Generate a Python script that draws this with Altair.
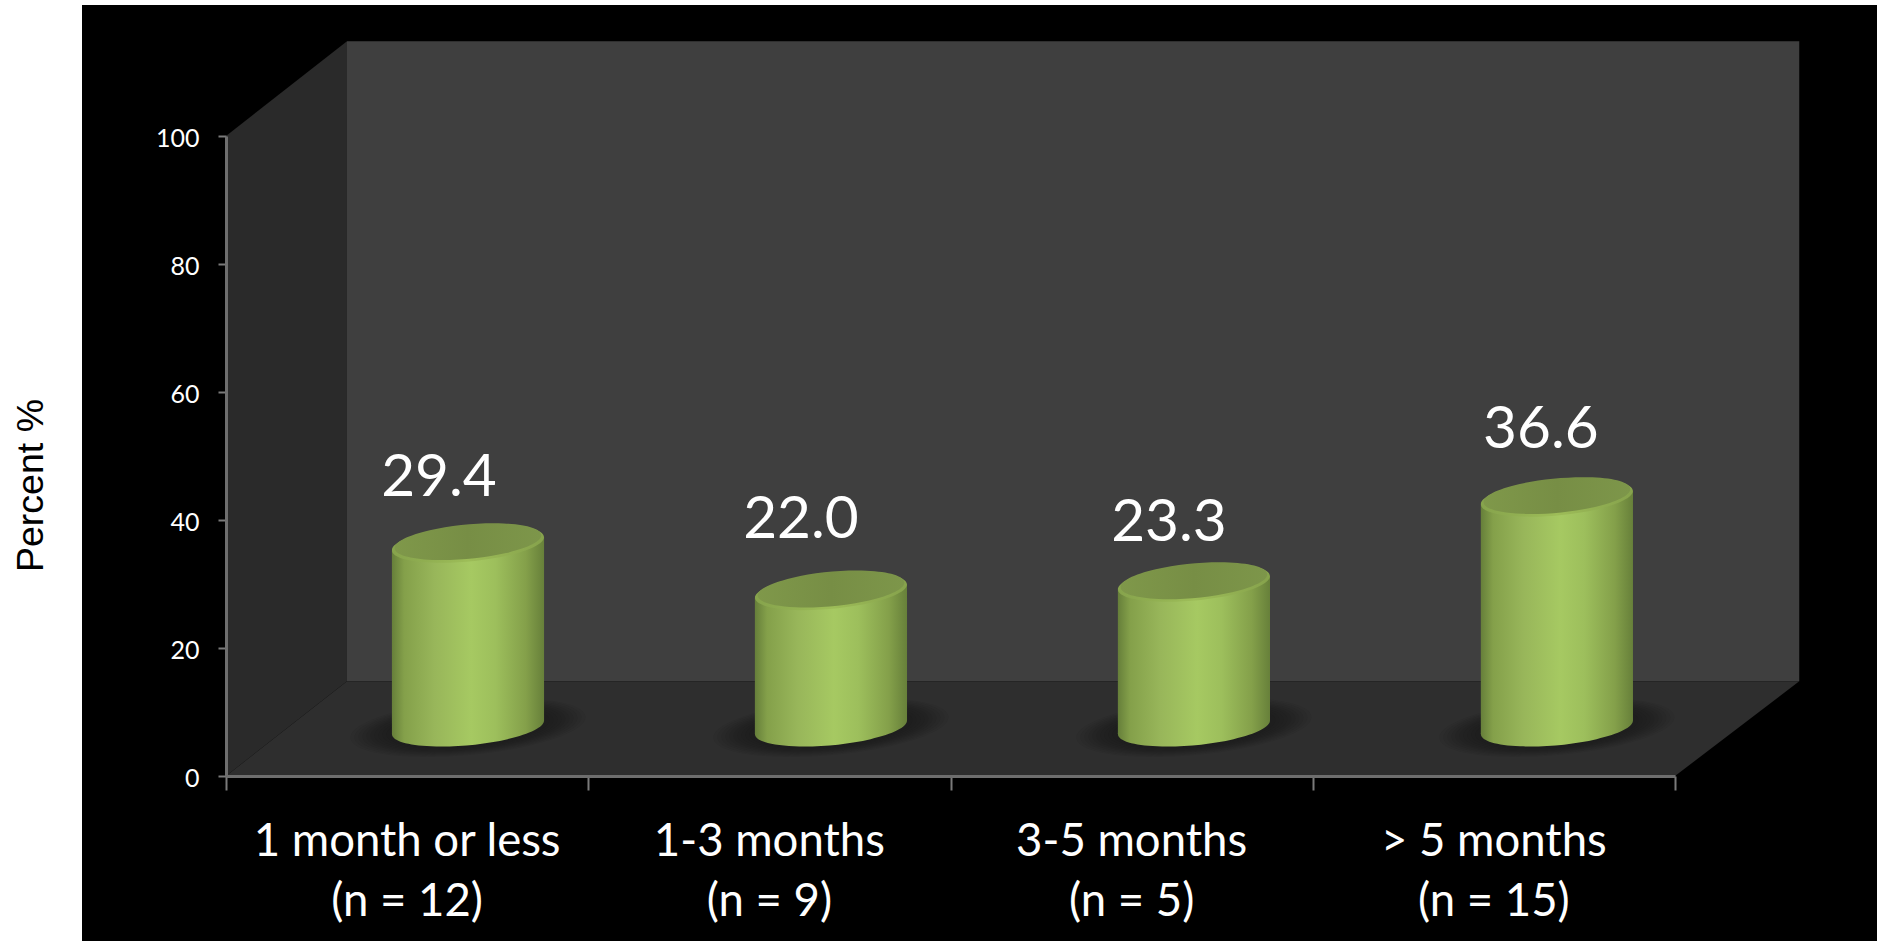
import altair as alt
import pandas as pd

# Chart values
categories = ["1 month or less", "1-3 months", "3-5 months", "> 5 months"]
sample_sizes = ["(n = 12)", "(n = 9)", "(n = 5)", "(n = 15)"]
percent = [29.4, 22.0, 23.3, 36.6]
y_ticks = [0, 20, 40, 60, 80, 100]
x_ticks = [0, 1, 2, 3, 4]

# Projection of the pseudo-3D box, in axis units
DEPTH_X = 0.334
DEPTH_X_RIGHT = 0.343
DEPTH_Y = 14.8
CYL_CENTER = 0.668
CYL_PITCH = 1.002
CYL_HALF = 0.21
FOOT_LEFT, FOOT_RIGHT = 6.55, 8.65
HEAD_LEFT, HEAD_RIGHT = 5.85, 7.95
FOOT_MID = (FOOT_LEFT + FOOT_RIGHT) / 2
HEAD_MID = (HEAD_LEFT + HEAD_RIGHT) / 2

x_scale = alt.Scale(domain=[0, 4], range=[226, 1675], zero=False, nice=False)
y_scale = alt.Scale(domain=[0, 100], range=[776, 136], zero=False, nice=False)

# One shared axis definition per channel; zindex keeps them above the panel
x_axis = alt.Axis(
    orient="bottom", offset=-165, values=x_ticks, labels=False, title=None,
    grid=False, tickSize=14, tickWidth=2, tickColor="#7a7a7a",
    domainColor="#6e6e6e", domainWidth=3, zindex=1,
)
y_axis = alt.Axis(
    orient="left", offset=-226, values=y_ticks, title="Percent %", grid=False,
    tickSize=8, tickWidth=2, tickColor="#7a7a7a", domainColor="#6e6e6e",
    domainWidth=3, labelColor="#ffffff", labelFont="Lato", labelFontSize=25,
    labelPadding=19, labelOffset=2, titleColor="#000000",
    titleFont="Liberation Sans", titleFontSize=37.5, titleFontWeight="normal",
    titleX=-176, titleY=485, titleAngle=270, titleAlign="center", zindex=1,
)
X = lambda f="x": alt.X(f"{f}:Q", scale=x_scale, axis=x_axis)
Y = lambda f="y": alt.Y(f"{f}:Q", scale=y_scale, axis=y_axis, stack=None)

# Tilted unit ellipse used for cylinder caps and floor shadows
ELLIPSE = ("M-0.9957,0.0924 A1,0.232 -5.3 1 1 0.9957,-0.0924 "
           "A1,0.232 -5.3 1 1 -0.9957,0.0924 Z")


def gradient(stops):
    return alt.LinearGradient(
        gradient="linear", x1=0, x2=1, y1=0, y2=0,
        stops=[alt.GradientStop(color=c, offset=o) for o, c in stops],
    )


body_fill = gradient([
    (0, "#667f3a"), (0.08, "#84a04a"), (0.28, "#98b65a"), (0.52, "#a6c962"),
    (0.68, "#9dbf5c"), (0.88, "#84a04a"), (1, "#67803a"),
])
rim_fill = gradient([(0, "#86a34c"), (0.5, "#9dbd58"), (1, "#86a24c")])
top_fill = gradient([(0, "#7f984a"), (0.5, "#778e45"), (1, "#7d964a")])

# Black panel behind the chart
panel = alt.Chart(pd.DataFrame({"a": [0]})).mark_rect(color="#000000").encode(
    x=alt.value(82), x2=alt.value(1877), y=alt.value(5), y2=alt.value(941)
)

# Box walls and floor
back_wall = alt.Chart(pd.DataFrame({
    "x": [DEPTH_X], "x2": [4 + DEPTH_X_RIGHT], "y": [DEPTH_Y], "y2": [100 + DEPTH_Y],
})).mark_rect(color="#3f3f3f").encode(x=X(), x2="x2:Q", y=Y(), y2="y2:Q")

side_wall = alt.Chart(pd.DataFrame({
    "x": [0, DEPTH_X], "y": [0, DEPTH_Y], "y2": [100, 100 + DEPTH_Y],
})).mark_area(color="#2a2a2a", orient="vertical").encode(x=X(), y=Y(), y2="y2:Q")

floor = alt.Chart(pd.DataFrame({
    "x": [0, DEPTH_X, 4, 4 + DEPTH_X_RIGHT],
    "y": [0, 0, 0, DEPTH_Y],
    "y2": [0, DEPTH_Y, DEPTH_Y, DEPTH_Y],
})).mark_area(color="#2e2e2e", orient="vertical").encode(x=X(), y=Y(), y2="y2:Q")

# Cylinder geometry, derived from the percent values
cyl_x = [CYL_CENTER + i * CYL_PITCH for i in range(len(percent))]
rows = []
for i, (cx, v) in enumerate(zip(cyl_x, percent)):
    rows.append({"c": i, "x": cx - CYL_HALF, "y": FOOT_LEFT, "y2": HEAD_LEFT + v})
    rows.append({"c": i, "x": cx + CYL_HALF, "y": FOOT_RIGHT, "y2": HEAD_RIGHT + v})
sides = pd.DataFrame(rows)

centers = pd.DataFrame({
    "x": cyl_x,
    "base": [FOOT_MID] * len(percent),
    "top": [HEAD_MID + v for v in percent],
})

CAP_WIDTH = 152.6


def ellipse_layer(field, width, fill, opacity=1.0, dy=0):
    return alt.Chart(centers).mark_point(
        shape=ELLIPSE, filled=True, fill=fill, opacity=opacity,
        strokeWidth=0, size=width * width, yOffset=dy,
    ).encode(x=X(), y=Y(field))


# Soft floor shadows built from stacked translucent ellipses
shadow_layers = [
    ellipse_layer("base", w, "#111111", opacity=0.06)
    for w in [236, 228, 220, 212, 204, 196, 188, 180, 172, 164]
]

body = alt.Chart(sides).mark_area(fill=body_fill, orient="vertical").encode(
    x=X(), y=Y(), y2="y2:Q", detail="c:N"
)
bottom_cap = ellipse_layer("base", CAP_WIDTH, body_fill)
top_rim = ellipse_layer("top", CAP_WIDTH, rim_fill)
top_face = ellipse_layer("top", CAP_WIDTH * 0.965, top_fill, dy=-2)

# Value labels above each cylinder
label_nudges = [(-29, -110), (-30, -115), (-25, -104), (-16, -112)]
value_layers = []
for cx, v, (dx, dy) in zip(cyl_x, percent, label_nudges):
    value_layers.append(
        alt.Chart(pd.DataFrame({"x": [cx], "y": [v], "t": [f"{v:.1f}"]}))
        .mark_text(color="#ffffff", font="Lato", fontSize=58.5, dx=dx, dy=dy,
                   align="center", baseline="middle")
        .encode(x=X(), y=Y(), text="t:N")
    )

# Category labels under the axis
tick_labels = pd.DataFrame({
    "x": [i + 0.5 for i in range(len(categories))],
    "y": [0] * len(categories),
    "name": categories,
    "n": sample_sizes,
})
name_text = alt.Chart(tick_labels).mark_text(
    color="#ffffff", font="Lato", fontSize=45.5, dy=66, align="center", baseline="middle"
).encode(x=X(), y=Y(), text="name:N")
n_text = alt.Chart(tick_labels).mark_text(
    color="#ffffff", font="Lato", fontSize=45.5, dy=126, align="center", baseline="middle"
).encode(x=X(), y=Y(), text="n:N")

chart = alt.layer(
    panel, back_wall, side_wall, floor,
    *shadow_layers, bottom_cap, body, top_rim, top_face,
    *value_layers, name_text, n_text,
).properties(
    width=1877, height=941, padding=0,
    autosize=alt.AutoSizeParams(type="none"),
    background="#ffffff",
).configure_view(stroke=None)

chart.save("out.html", embed_options={"renderer": "svg", "actions": False})
